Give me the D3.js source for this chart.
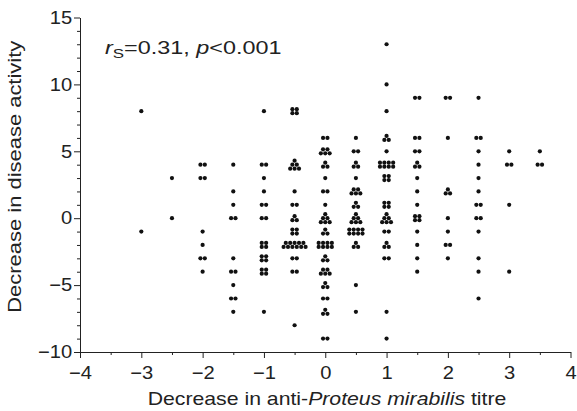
<!DOCTYPE html>
<html>
<head>
<meta charset="utf-8">
<script src="https://cdn.jsdelivr.net/npm/d3@7"></script>
<style>
  body { margin: 0; background: #fff; }
  svg { font-family: "Liberation Sans", Arial, sans-serif; }
  .tick text { font-size: 18px; fill: #222; }
</style>
</head>
<body>
<svg id="chart" width="577" height="411"></svg>
<script>
// titre decrease levels (x) and the disease activity decreases seen at each level (y)
const xLevels = [-3, -2.5, -2, -1.5, -1, -0.5, 0, 0.5, 1, 1.5, 2, 2.5, 3, 3.5];
const activity = [
  [8, -1],
  [3, 0],
  [4, 4, 3, 3, -1, -2, -3, -3, -4],
  [4, 2, 1, 0, 0, -3, -4, -4, -5, -6, -6, -7],
  [8, 4, 4, 3, 2, 1, 1, 0, 0, -2, -2, -2, -2, -3, -3, -3, -3, -4, -4, -4, -4, -7],
  [8, 8, 8, 8, 4, 4, 4, 4, 4, 4, 2, 1, 1, 0, 0, 0, -1, -1, -1, -1,
   -2, -2, -2, -2, -2, -2, -2, -2, -2, -2, -2, -3, -3, -4, -4, -8],
  [6, 6, 5, 5, 5, 5, 5, 4, 4, 4, 3, 2, 2, 1, 0, 0, 0, 0, 0, 0, -1, -1, -1,
   -2, -2, -2, -2, -2, -2, -2, -2, -3, -3, -3, -4, -4, -4, -4, -4,
   -5, -5, -5, -6, -6, -7, -7, -7, -9, -9],
  [6, 5, 5, 4, 4, 4, 3, 2, 2, 2, 2, 2, 1, 1, 1, 0, 0, 0, 0, 0, 0,
   -1, -1, -1, -1, -1, -1, -1, -1, -2, -2, -2, -5, -7],
  [13, 10, 8, 6, 6, 6, 5, 4, 4, 4, 4, 4, 4, 4, 4, 3, 3, 3, 3, 1, 1, 1, 1,
   0, 0, 0, 0, 0, 0, -1, -1, -2, -2, -2, -3, -3, -7, -9],
  [9, 9, 6, 6, 5, 5, 4, 4, 4, 3, 2, 1, 0, 0, 0, 0, -1, -2, -3, -4],
  [9, 9, 6, 2, 2, 2, 0, -1, -2, -2, -3],
  [9, 6, 6, 5, 4, 3, 2, 1, 1, 0, 0, -1, -3, -4, -6],
  [5, 4, 4, 1, -4],
  [5, 4, 4]
];
const xTicks = [-4, -3, -2, -1, 0, 1, 2, 3, 4];
const yTicks = [-10, -5, 0, 5, 10, 15];

const svg = d3.select('#chart');

const x = d3.scaleLinear().domain([-4, 4]).range([80, 570.5]);
const y = d3.scaleLinear().domain([-10, 15]).range([352, 17.5]);

const fmt = d => d < 0 ? '\u2212' + Math.abs(d) : String(d);
const sx = 1.12; // the original lettering is a little wider than Liberation Sans

// minor ticks first
svg.append('g')
  .attr('transform', `translate(0,${y(-10)})`)
  .call(d3.axisBottom(x).tickValues(d3.range(-3.5, 4, 1)).tickSize(3).tickFormat(''))
  .call(g => g.select('.domain').remove());
svg.append('g')
  .attr('transform', `translate(${x(-4)},0)`)
  .call(d3.axisLeft(y).tickValues(d3.range(-10, 16, 1).filter(v => v % 5 !== 0)).tickSize(3).tickFormat(''))
  .call(g => g.select('.domain').remove());

svg.append('g')
  .attr('transform', `translate(0,${y(-10)})`)
  .call(d3.axisBottom(x).tickValues(xTicks).tickSize(6).tickSizeOuter(0).tickPadding(8).tickFormat(fmt))
  .call(g => g.selectAll('.tick text').attr('transform', `scale(${sx},1)`));
svg.append('g')
  .attr('transform', `translate(${x(-4)},0)`)
  .call(d3.axisLeft(y).tickValues(yTicks).tickSize(6).tickSizeOuter(0).tickPadding(1).tickFormat(fmt))
  .call(g => g.selectAll('.tick text').attr('transform', `scale(${sx},1)`));

svg.selectAll('.domain, .tick line').attr('stroke', '#222');

// clusters: identical values are stacked in small rows
const layouts = {1: [1], 2: [2], 3: [1, 2], 4: [2, 2], 5: [2, 3], 6: [1, 2, 3], 7: [3, 4], 8: [4, 4]};
const dx = 4.4, dy = 4;
const points = [];
xLevels.forEach((xv, i) => {
  const counts = d3.rollup(activity[i], v => v.length, d => d);
  counts.forEach((n, yv) => {
    const rows = layouts[n] || [Math.floor(n / 2), Math.ceil(n / 2)];
    rows.forEach((k, r) => {
      const oy = (r - (rows.length - 1) / 2) * dy;
      for (let j = 0; j < k; j++) {
        points.push({x: xv, y: yv, ox: (j - (k - 1) / 2) * dx, oy: oy});
      }
    });
  });
});

svg.append('g')
  .selectAll('circle')
  .data(points)
  .join('circle')
  .attr('cx', d => x(d.x) + d.ox)
  .attr('cy', d => y(d.y) + d.oy)
  .attr('r', 2.1)
  .attr('fill', '#111');

// statistic
const stat = svg.append('text')
  .attr('transform', 'translate(105,54) scale(1.3,1)')
  .attr('font-size', 18)
  .attr('fill', '#222');
stat.append('tspan').attr('font-style', 'italic').text('r');
stat.append('tspan').attr('font-size', 13).attr('dy', 4).text('S');
stat.append('tspan').attr('dy', -4).text('=0.31, ');
stat.append('tspan').attr('font-style', 'italic').text('p');
stat.append('tspan').text('<0.001');

// axis titles
const xt = svg.append('text')
  .attr('transform', 'translate(327,405) scale(1.18,1)')
  .attr('text-anchor', 'middle')
  .attr('font-size', 18)
  .attr('fill', '#222');
xt.append('tspan').text('Decrease in anti-');
xt.append('tspan').attr('font-style', 'italic').text('Proteus mirabilis');
xt.append('tspan').text(' titre');

svg.append('text')
  .attr('transform', `translate(21,${y(2.5) - 8}) rotate(-90) scale(1.22,1)`)
  .attr('text-anchor', 'middle')
  .attr('font-size', 18)
  .attr('fill', '#222')
  .text('Decrease in disease activity');
</script>
</body>
</html>
